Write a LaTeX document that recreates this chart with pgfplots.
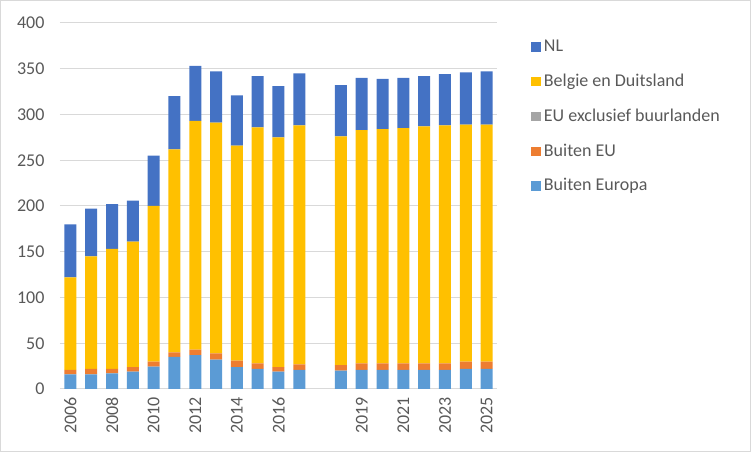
\documentclass[border=0pt]{standalone}
\usepackage{pgfplots}
\pgfplotsset{compat=1.18}
\usepackage{fontspec}
\setmainfont{Carlito}
\definecolor{cNL}{HTML}{4472C4}
\definecolor{cBD}{HTML}{FFC000}
\definecolor{cEU}{HTML}{A5A5A5}
\definecolor{cBEU}{HTML}{ED7D31}
\definecolor{cBE}{HTML}{5B9BD5}
\definecolor{cGrid}{HTML}{D9D9D9}
\definecolor{cTxt}{HTML}{595959}
\begin{document}
\fontsize{13.5}{16}\selectfont
\begin{tikzpicture}
\draw[cGrid, line width=0.75pt] (0.375pt,0.375pt) rectangle (562.875pt,338.625pt);
\begin{axis}[
  at={(45pt,47.25pt)}, anchor=south west,
  scale only axis, width=327.75pt, height=274.5pt,
  ybar stacked, bar width=9pt,
  xmin=-0.5, xmax=20.5, ymin=0, ymax=400,
  xtick={0,2,...,20},
  xticklabels={2006,2008,2010,2012,2014,2016,,2019,2021,2023,2025},
  ytick={0,50,...,400},
  ymajorgrids, grid style={cGrid, line width=0.75pt},
  major tick length=0pt,
  axis line style={draw=none},
  /pgf/number format/assume math mode=true,
  tick label style={font=\fontsize{13.5}{16}\selectfont, text=cTxt},
  yticklabel style={xshift=-7pt},
  xticklabel style={rotate=90, anchor=east, yshift=0pt, xshift=-1.5pt},
  reverse legend,
  legend cell align=left,
  legend style={draw=none, fill=none, at={(1,1)}, anchor=north west,
    xshift=22.5pt, yshift=-8.5pt, row sep=10.8pt, font=\fontsize{13.5}{16}\selectfont, text=cTxt,
    /tikz/every even column/.append style={column sep=3.5pt}},
  legend image code/.code={\fill[#1,draw=none] (0pt,-3.6pt) rectangle (7.5pt,3.6pt);},
]
\addplot[fill=cBE, draw=none] coordinates {(0,16) (1,16) (2,17) (3,19) (4,24.5) (5,35) (6,37) (7,32) (8,24) (9,22) (10,19) (11,21) (13,20) (14,21) (15,21) (16,21) (17,21) (18,21) (19,22) (20,22)};
\addplot[fill=cBEU, draw=none] coordinates {(0,5) (1,6) (2,5) (3,5) (4,5.5) (5,5) (6,6) (7,7) (8,7) (9,6) (10,5) (11,6) (13,6) (14,7) (15,7) (16,7) (17,7) (18,7) (19,8) (20,8)};
\addplot[fill=cEU, draw=none] coordinates {(0,0) (1,0) (2,0) (3,0) (4,0) (5,0) (6,0) (7,0) (8,0) (9,0) (10,0) (11,0) (13,0) (14,0) (15,0) (16,0) (17,0) (18,0) (19,0) (20,0)};
\addplot[fill=cBD, draw=none] coordinates {(0,101) (1,123) (2,131) (3,137) (4,170) (5,222) (6,250) (7,252) (8,235) (9,258) (10,251) (11,261) (13,250) (14,255) (15,256) (16,257) (17,259) (18,260) (19,259) (20,259)};
\addplot[fill=cNL, draw=none] coordinates {(0,58) (1,52) (2,49) (3,45) (4,55) (5,58) (6,60) (7,56) (8,55) (9,56) (10,56) (11,57) (13,56) (14,57) (15,55) (16,55) (17,55) (18,56) (19,57) (20,58)};
\legend{Buiten Europa, Buiten EU, EU exclusief buurlanden, Belgie en Duitsland, NL}
\end{axis}
\end{tikzpicture}
\end{document}
